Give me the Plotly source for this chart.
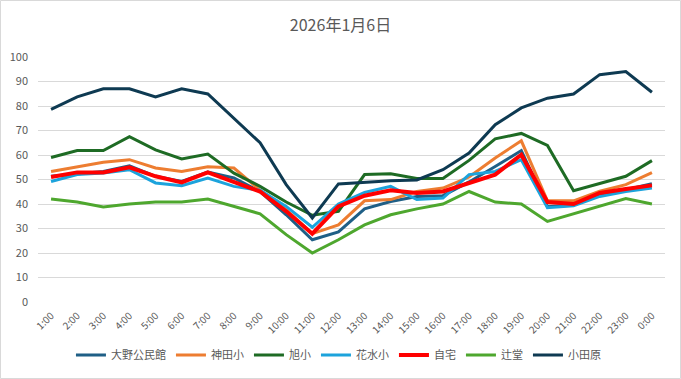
import plotly.graph_objects as go

hours = ["1:00", "2:00", "3:00", "4:00", "5:00", "6:00", "7:00", "8:00", "9:00", "10:00",
         "11:00", "12:00", "13:00", "14:00", "15:00", "16:00", "17:00", "18:00", "19:00",
         "20:00", "21:00", "22:00", "23:00", "0:00"]

ono = [51.3, 52.4, 53.3, 55.6, 51.3, 49.2, 53.0, 50.6, 45.1, 35.6, 25.4, 28.6,
       38.0, 41.0, 43.1, 43.4, 49.0, 55.3, 61.8, 38.9, 39.6, 44.0, 45.8, 48.3]
kanda = [53.3, 55.1, 57.0, 58.1, 54.7, 53.3, 55.2, 54.7, 45.6, 37.7, 27.9, 31.5,
         41.3, 41.8, 45.1, 46.5, 51.0, 58.8, 65.8, 41.3, 41.3, 45.2, 47.9, 52.8]
asahi = [59.0, 61.8, 61.8, 67.5, 62.1, 58.4, 60.4, 52.6, 47.2, 40.8, 35.4, 37.0,
         52.0, 52.3, 50.4, 50.4, 57.8, 66.6, 68.8, 63.9, 45.4, 48.3, 51.3, 57.7]
hanamizu = [49.2, 52.0, 52.6, 54.0, 48.6, 47.5, 50.6, 47.2, 45.6, 39.0, 30.5, 40.0,
            44.7, 47.2, 41.8, 42.4, 52.0, 53.3, 58.1, 38.5, 39.3, 43.1, 45.1, 46.5]
home = [51.0, 52.9, 52.9, 55.0, 51.3, 48.8, 52.9, 49.2, 45.1, 37.0, 27.9, 39.0,
        43.4, 45.6, 44.5, 45.1, 48.5, 52.0, 60.1, 40.8, 40.0, 44.5, 46.1, 47.6]
tsujido = [42.0, 40.8, 38.8, 40.0, 40.8, 40.8, 42.0, 39.0, 36.0, 27.5, 20.0, 25.4,
           31.5, 35.6, 38.0, 40.0, 45.1, 40.8, 40.0, 32.9, 36.0, 39.0, 42.2, 40.0]
odawara = [78.6, 83.7, 87.0, 87.0, 83.7, 87.0, 84.9, 74.8, 65.0, 47.9, 34.3, 48.2,
           49.0, 49.5, 49.8, 54.0, 60.8, 72.4, 79.2, 83.2, 84.9, 92.8, 94.1, 85.6]

series = [
    ("大野公民館", ono, "#1F5F86", 3),
    ("神田小", kanda, "#ED7D31", 3),
    ("旭小", asahi, "#1E6B24", 3),
    ("花水小", hanamizu, "#1CA3DC", 3),
    ("自宅", home, "#FF0000", 4),
    ("辻堂", tsujido, "#4EA72E", 3),
    ("小田原", odawara, "#0E3A52", 3),
]

fig = go.Figure()
for name, vals, color, w in series:
    fig.add_trace(go.Scatter(x=hours, y=vals, mode="lines", name=name,
                             line=dict(color=color, width=w), hoverinfo="skip"))

font_family = "Noto Sans CJK JP, Noto Sans, sans-serif"
fig.update_layout(
    width=681, height=379,
    margin=dict(l=38, r=16, t=57, b=77, autoexpand=False),
    paper_bgcolor="white", plot_bgcolor="white",
    hovermode=False,
    font=dict(family=font_family, color="#595959", size=11),
    title=dict(text="2026年1月6日", x=0.5, xanchor="center", y=0.932, yanchor="middle",
               font=dict(size=16, color="#595959", family=font_family)),
    xaxis=dict(type="category", tickangle=-45, tickfont=dict(size=10, color="#595959"),
               showgrid=False, showline=False, ticks="", range=[-0.5, 23.5], automargin=False,
               ticklabelstandoff=5),
    yaxis=dict(range=[0, 100], dtick=10, showgrid=True, gridcolor="#D9D9D9", gridwidth=1,
               zeroline=False, showline=False, ticks="", automargin=False,
               ticklabelstandoff=9,
               tickfont=dict(size=11, color="#595959")),
    legend=dict(orientation="h", xref="container", x=0.497, xanchor="center",
                yref="container", y=0.063, yanchor="middle",
                font=dict(size=11, color="#595959"), itemwidth=30, tracegroupgap=0),
    showlegend=True,
    shapes=[dict(type="rect", xref="paper", yref="paper",
                 x0=-38/627 + 0.5/627, x1=(681-38-0.5)/627,
                 y0=-77/245 + 0.5/245, y1=(379-77-0.5)/245,
                 line=dict(color="#D9D9D9", width=1), fillcolor="rgba(0,0,0,0)", layer="below")],
)

fig.write_html("out.html", config={"displayModeBar": False, "staticPlot": True},
               post_script="document.body.style.margin='0';")
